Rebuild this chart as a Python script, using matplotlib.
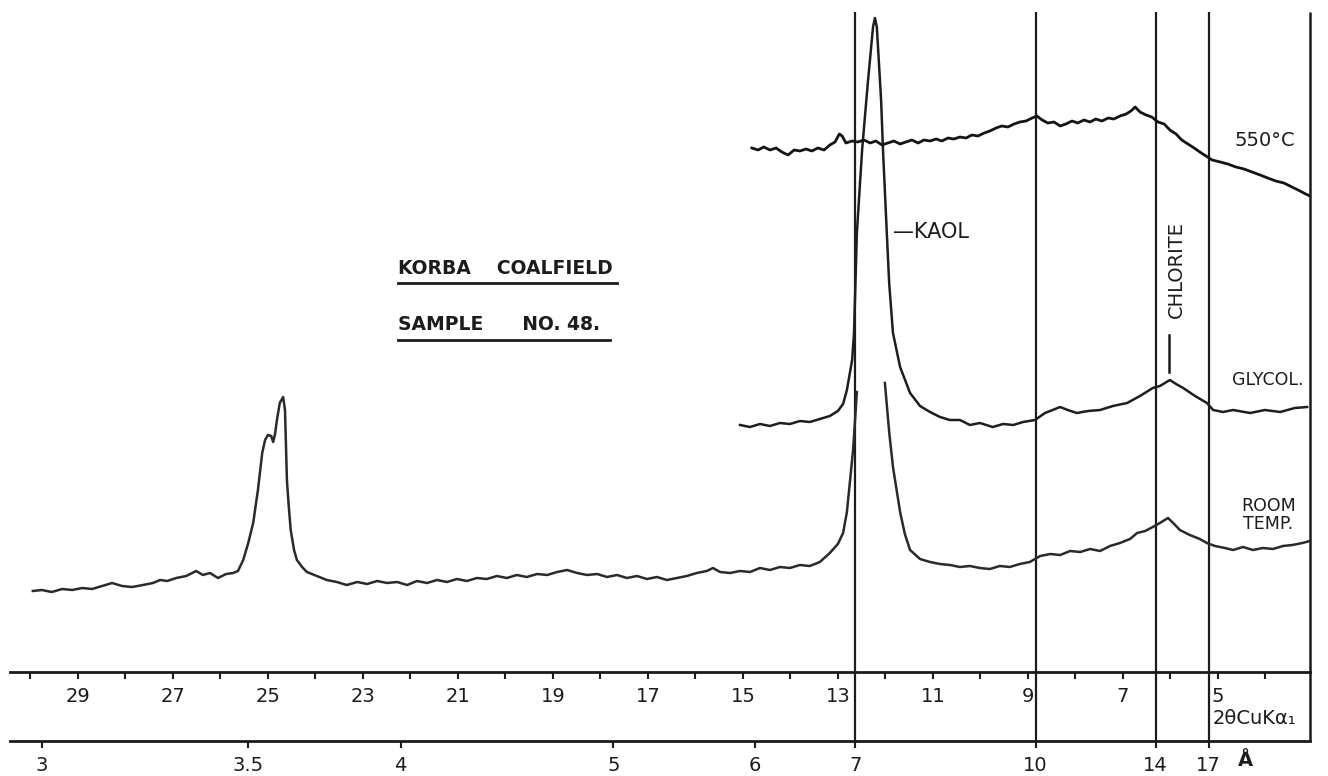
import numpy as np
import matplotlib
matplotlib.use("Agg")
import matplotlib.pyplot as plt
from matplotlib.ticker import MultipleLocator, FuncFormatter, NullLocator

# ---------------- data (2theta in degrees CuKa1, intensity in arbitrary chart units) ----------------
room_2theta = [29.95, 29.76, 29.55, 29.33, 29.12, 28.91, 28.70, 28.49, 28.28, 28.07, 27.86, 27.63,
               27.42, 27.27, 27.12, 26.93, 26.72, 26.51, 26.37, 26.22, 26.05, 25.88, 25.73, 25.63,
               25.52, 25.42, 25.31, 25.21, 25.12, 25.06, 25.00, 24.93, 24.89, 24.85, 24.81, 24.75,
               24.68, 24.64, 24.60, 24.56, 24.52, 24.45, 24.39, 24.28, 24.18, 23.97, 23.76, 23.55,
               23.34, 23.12, 22.91, 22.70, 22.49, 22.28, 22.07, 21.86, 21.65, 21.44, 21.23, 21.02,
               20.81, 20.60, 20.39, 20.18, 19.97, 19.76, 19.55, 19.33, 19.12, 18.91, 18.70, 18.49,
               18.28, 18.07, 17.86, 17.65, 17.44, 17.23, 17.02, 16.81, 16.60, 16.39, 16.18, 15.97,
               15.76, 15.63, 15.48, 15.27, 15.06, 14.85, 14.64, 14.43, 14.22, 14.01, 13.80, 13.59,
               13.38, 13.17, 13.00, 12.89, 12.81, 12.75, 12.68, 12.60, np.nan, 12.01, 11.92, 11.84,
               11.69, 11.59, 11.48, 11.27, 11.06, 10.85, 10.64, 10.43, 10.22, 10.01, 9.80, 9.59,
               9.38, 9.17, 8.96, 8.74, 8.53, 8.32, 8.11, 7.90, 7.69, 7.48, 7.27, 7.06,
               6.85, 6.70, 6.53, 6.37, 6.22, 6.05, 5.92, 5.80, 5.59, 5.38, 5.23, 5.06,
               4.85, 4.68, 4.47, 4.26, 4.05, 3.84, 3.63, 3.43, 3.22, 3.06]
room_int = [81, 82, 80, 83, 82, 84, 83, 86, 89, 86, 85, 87,
            89, 92, 91, 94, 96, 101, 97, 99, 94, 98, 99, 101,
            112, 128, 149, 182, 219, 232, 237, 236, 230, 238, 252, 269,
            275, 262, 192, 165, 142, 122, 112, 105, 100, 96, 92, 90,
            87, 90, 88, 91, 89, 90, 87, 91, 89, 92, 90, 93,
            91, 94, 93, 96, 94, 97, 95, 98, 97, 100, 102, 99,
            97, 98, 95, 97, 94, 96, 93, 95, 92, 94, 96, 99,
            101, 104, 100, 99, 101, 100, 104, 102, 105, 104, 107, 106,
            110, 119, 128, 139, 160, 189, 222, 280, np.nan, 289, 240, 205,
            160, 138, 122, 113, 110, 108, 107, 105, 106, 104, 103, 106,
            105, 108, 110, 116, 118, 117, 121, 120, 123, 121, 126, 129,
            133, 139, 141, 145, 149, 154, 148, 142, 137, 133, 129, 126,
            124, 122, 125, 122, 124, 123, 126, 127, 129, 131]

glycol_2theta = [15.06, 14.85, 14.64, 14.43, 14.22, 14.01, 13.80, 13.59, 13.38, 13.17, 13.00, 12.89,
                 12.81, 12.70, 12.66, 12.60, 12.49, 12.37, 12.26, 12.22, 12.18, 12.09, 12.05, 11.97,
                 11.92, 11.84, 11.69, 11.48, 11.27, 11.06, 10.85, 10.64, 10.43, 10.22, 10.01,
                 9.74, 9.52, 9.31, 9.10, 8.85, 8.64, 8.32, 8.16, 7.97, 7.73, 7.48, 7.21,
                 6.91, 6.64, 6.37, 6.22, 6.01, 5.88, 5.73, 5.48, 5.23, 5.10, 4.89, 4.68,
                 4.32, 4.01, 3.69, 3.38, 3.12]
glycol_int = [247, 245, 248, 246, 249, 248, 251, 250, 253, 256, 261, 268,
              282, 312, 339, 439, 522, 589, 645, 654, 645, 572, 522, 439,
              389, 339, 305, 279, 266, 260, 255, 252, 252, 247, 249,
              245, 248, 247, 250, 252, 259, 265, 262, 259, 261, 262, 266,
              269, 276, 284, 286, 292, 288, 284, 276, 269, 262, 260, 262,
              259, 262, 260, 264, 265]

heated_2theta = [14.81, 14.68, 14.56, 14.43, 14.30, 14.18, 14.05, 13.92, 13.80, 13.67, 13.55, 13.42,
                 13.29, 13.17, 13.06, 12.97, 12.91, 12.83, 12.70, 12.58, 12.45, 12.32, 12.20, 12.07,
                 11.95, 11.82, 11.69, 11.57, 11.44, 11.31, 11.19, 11.06, 10.93, 10.81, 10.68, 10.56,
                 10.43, 10.30, 10.18, 10.05, 9.92, 9.80, 9.67, 9.55, 9.42, 9.29, 9.17, 9.04,
                 8.91, 8.81, 8.70, 8.58, 8.45, 8.32, 8.20, 8.07, 7.95, 7.82, 7.69, 7.57,
                 7.44, 7.31, 7.19, 7.06, 6.93, 6.83, 6.74, 6.64, 6.51, 6.39, 6.26, 6.13,
                 6.01, 5.88, 5.76, 5.63, 5.50, 5.38, 5.25, 5.12, 4.95, 4.79, 4.62, 4.45,
                 4.28, 4.11, 3.95, 3.78, 3.61, 3.44, 3.27, 3.15, 3.06]
heated_int = [524, 522, 525, 522, 524, 520, 517, 522, 521, 523, 521, 524,
              522, 527, 530, 538, 536, 529, 531, 530, 532, 529, 531, 527,
              529, 531, 528, 530, 532, 529, 532, 531, 533, 531, 534, 533,
              535, 534, 537, 536, 539, 541, 544, 546, 545, 548, 550, 551,
              554, 556, 552, 549, 550, 546, 548, 551, 549, 552, 550, 553,
              551, 554, 553, 556, 558, 561, 565, 560, 557, 555, 550, 548,
              542, 538, 532, 528, 524, 520, 516, 512, 510, 508, 505, 503,
              500, 497, 494, 491, 489, 485, 481, 478, 476]

two_theta_labels = [29, 27, 25, 23, 21, 19, 17, 15, 13, 11, 9, 7, 5]
d_ticks = [3, 3.5, 4, 5, 6, 7, 10, 14, 17]
d_tick_labels = ["3", "3.5", "4", "5", "6", "7", "10", "14", "17"]
marker_d = [7, 10, 14, 17]

WAVELENGTH = 1.5406  # CuKa1


def tth_to_d(t):
    t = np.asarray(t, dtype=float)
    s = np.sin(np.radians(np.clip(t, 0.05, 179.0) / 2.0))
    return WAVELENGTH / (2.0 * s)


def d_to_tth(d):
    d = np.asarray(d, dtype=float)
    r = np.clip(WAVELENGTH / (2.0 * np.clip(d, 0.78, None)), -1, 1)
    return 2.0 * np.degrees(np.arcsin(r))


# ---------------- figure ----------------
W, H = 1328, 776
fig = plt.figure(figsize=(W / 100, H / 100), dpi=100)
fig.patch.set_facecolor("white")
ax = fig.add_axes([10 / W, 104 / H, 1300 / W, 662 / H])
ax.set_xlim(30.43, 3.06)
ax.set_ylim(0, 662)
for s in ["top", "left", "right"]:
    ax.spines[s].set_visible(False)
ax.spines["bottom"].set_linewidth(2.0)
ax.spines["bottom"].set_color("#1a1a1a")
ax.set_yticks([])

INK = "#1c1c1c"


def tth_fmt(v, pos):
    r = int(round(v))
    if abs(v - r) < 1e-6 and r in two_theta_labels:
        return str(r)
    return ""


ax.xaxis.set_major_locator(MultipleLocator(1))
ax.xaxis.set_major_formatter(FuncFormatter(tth_fmt))
ax.tick_params(axis="x", direction="out", length=5, width=1.5, color=INK,
               labelsize=14, labelcolor=INK, pad=6)

loc = -69 / 662
secax = ax.secondary_xaxis(loc, functions=(tth_to_d, d_to_tth))
secax.set_xticks(d_ticks)
secax.set_xticklabels(d_tick_labels)
secax.xaxis.set_minor_locator(NullLocator())
secax.spines["bottom"].set_linewidth(2.0)
secax.spines["bottom"].set_color("#1a1a1a")
secax.tick_params(direction="out", length=5, width=1.5, color=INK,
                  labelsize=14, labelcolor=INK, pad=6)

# vertical reference lines (7, 10, 14, 17 A) and right frame line
xt = ax.get_xaxis_transform()
ax.vlines(d_to_tth(marker_d), loc, 0.997, transform=xt, colors=INK, lw=1.6, clip_on=False)
ax.vlines([ax.get_xlim()[1]], loc, 0.997, transform=xt, colors=INK, lw=1.8, clip_on=False)

# traces
ax.plot(room_2theta, room_int, color="#2a2a2a", lw=1.8, solid_joinstyle="round")
ax.plot(glycol_2theta, glycol_int, color="#1e1e1e", lw=1.8, solid_joinstyle="round")
ax.plot(heated_2theta, heated_int, color="#141414", lw=2.0, solid_joinstyle="round")

# annotations
ax.text(4.01, 532, "550°C", fontsize=14, color=INK, ha="center", va="center")
ax.text(11.84, 440, "—KAOL", fontsize=15, color=INK, ha="left", va="center")
ax.text(22.26, 404, "KORBA    COALFIELD", fontsize=13.5, fontweight="bold", color=INK,
        ha="left", va="center")
ax.plot([22.26, 17.65], [389, 389], color=INK, lw=2.0)
ax.text(22.26, 347, "SAMPLE      NO. 48.", fontsize=13.5, fontweight="bold", color=INK,
        ha="left", va="center")
ax.plot([22.26, 17.80], [332, 332], color=INK, lw=2.0)
ax.text(5.88, 402, "CHLORITE", fontsize=14, rotation=90, color=INK, ha="center", va="center")
ax.plot([6.03, 6.03], [337, 300], color=INK, lw=1.8)
ax.text(3.94, 292, "GLYCOL.", fontsize=12.5, color=INK, ha="center", va="center")
ax.text(3.94, 157, "ROOM\nTEMP.", fontsize=12.5, color=INK, ha="center", va="center",
        linespacing=1.05)
ax.text(4.22, -47, "2θCuKα₁", fontsize=14, color=INK, ha="center", va="center")
ax.text(4.43, -88, "Å", fontsize=14, fontweight="bold", color=INK, ha="center", va="center")

fig.savefig("out.png", dpi=100, facecolor="white")
